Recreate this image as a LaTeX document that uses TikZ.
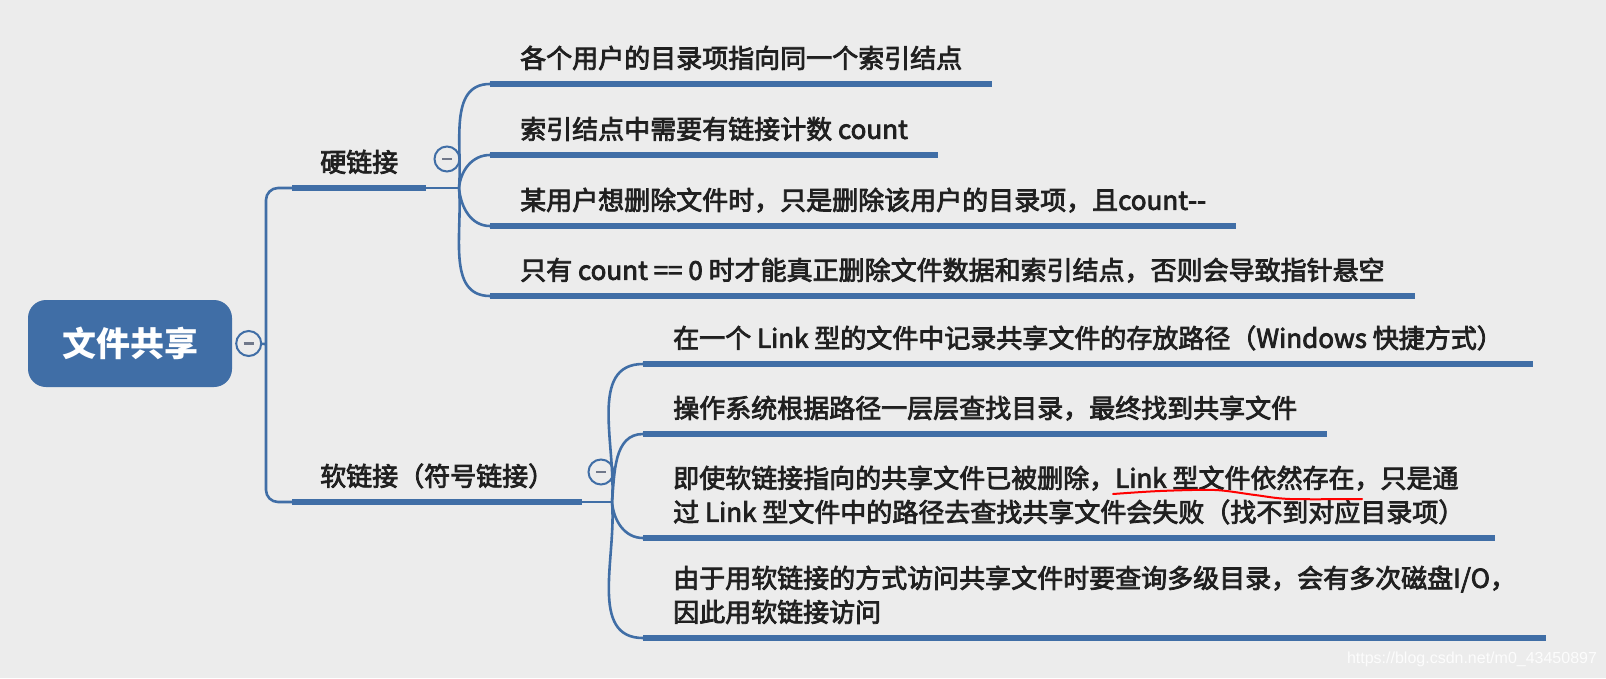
\documentclass[tikz,border=0pt]{standalone}
\usepackage{fontspec}
\setmainfont{Noto Sans CJK SC}
\newfontfamily\leaffont{Noto Sans CJK SC}[FakeBold=3]
\newfontfamily\urlfont{Liberation Sans}
\usepackage{tikz}
\usetikzlibrary{positioning}

\definecolor{mapblue}{RGB}{64,110,166}
\definecolor{mapbg}{RGB}{236,236,236}
\definecolor{maptext}{RGB}{32,32,32}
\definecolor{foldgray}{RGB}{112,120,138}

\newcommand{\foldmark}{\textcolor{foldgray}{\rule[-1.25pt]{10pt}{2.5pt}}}
\newcommand{\twolines}[2]{\begin{tabular}[b]{@{}l@{}}#1\\#2\end{tabular}}

\begin{document}
\begin{tikzpicture}[x=1pt,y=1pt,
    topic/.style={rectangle,rounded corners=18pt,fill=mapblue,text=white,minimum width=204pt,minimum height=87pt,font=\fontsize{34}{40}\selectfont\bfseries},
    branch/.style={rectangle,anchor=south west,inner xsep=28pt,inner ysep=16pt,text depth=0pt,text=maptext,font=\leaffont\fontsize{26}{34}\selectfont},
    leaf/.style={branch,inner xsep=30pt},
    fold/.style={circle,draw=mapblue,line width=2pt,fill=mapbg,minimum size=25pt,inner sep=0pt},
    link/.style={draw=mapblue,line width=2.6pt},
    bar/.style={draw=mapblue,line width=6.5pt},
]
    \fill[mapbg] (0,0) rectangle (1606,-678);
    \useasboundingbox (0,0) rectangle (1606,-678);

    \node[topic] (root) at (130,-343.5) {文件共享};
    \node[fold,right=3pt of root] (rootfold) {\foldmark};
    \coordinate (trunk) at (266,-344);

    \node[branch] (hard) at (292,-188) {硬链接};
    \node[branch] (soft) at (292,-502) {软链接（符号链接）};
    \coordinate (hardjoin) at (459,-188);
    \coordinate (softjoin) at (612,-502);
    \node[fold] (hardfold) at (447,-159) {\foldmark};
    \node[fold] (softfold) at (601,-472) {\foldmark};

    \node[leaf] (h1) at (490,-84) {各个用户的目录项指向同一个索引结点};
    \node[leaf] (h2) at (490,-155) {索引结点中需要有链接计数 count};
    \node[leaf] (h3) at (490,-226) {某用户想删除文件时，只是删除该用户的目录项，且count\mbox{-}\mbox{-}};
    \node[leaf] (h4) at (490,-296) {只有 count == 0 时才能真正删除文件数据和索引结点，否则会导致指针悬空};

    \node[leaf] (s1) at (643,-364) {在一个 Link 型的文件中记录共享文件的存放路径（Windows 快捷方式）};
    \node[leaf] (s2) at (643,-434) {操作系统根据路径一层层查找目录，最终找到共享文件};
    \node[leaf] (s3) at (643,-538) {\twolines{即使软链接指向的共享文件已被删除，Link 型文件依然存在，只是通}{过 Link 型文件中的路径去查找共享文件会失败（找不到对应目录项）}};
    \node[leaf] (s4) at (643,-638) {\twolines{由于用软链接的方式访问共享文件时要查询多级目录，会有多次磁盘I/O，}{因此用软链接访问}};

    \foreach \n in {hard,soft,h1,h2,h3,h4,s1,s2,s3,s4}
        \draw[bar] (\n.south west) -- (\n.south east);

    \draw[link] (rootfold) -- (trunk);
    \draw[link,rounded corners=12pt] (hard.south west) -| (trunk) |- (soft.south west);
    \draw[link] (hard.south east) -- (hardjoin);
    \draw[link] (soft.south east) -- (softjoin);
    \foreach \n in {h1,h2}
        \draw[link] (hardjoin) to[out=85,in=180] (\n.south west);
    \foreach \n in {h3,h4}
        \draw[link] (hardjoin) to[out=-85,in=180] (\n.south west);
    \foreach \n in {s1,s2}
        \draw[link] (softjoin) to[out=85,in=180] (\n.south west);
    \foreach \n in {s3,s4}
        \draw[link] (softjoin) to[out=-85,in=180] (\n.south west);

    %~ hand-drawn mark under the text
    \draw[red,line width=2pt,line cap=round] plot[smooth] coordinates {(1113,-494) (1160,-491) (1215,-490) (1255,-495) (1290,-499) (1362,-499)};

    \node[text=white,opacity=0.85,font=\urlfont\fontsize{16}{18}\selectfont] (url) at (1472,-659) {https://blog.csdn.net/m0\_43450897};
\end{tikzpicture}
\end{document}
